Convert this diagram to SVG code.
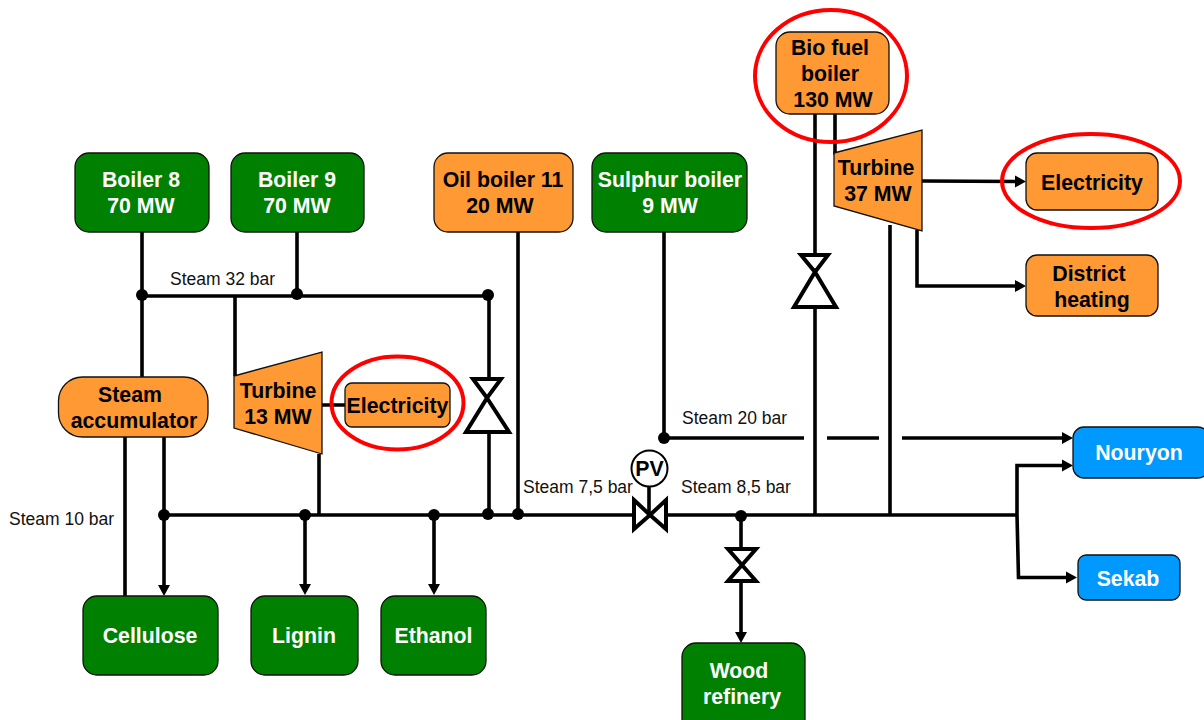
<svg xmlns="http://www.w3.org/2000/svg" width="1204" height="720" viewBox="0 0 1204 720">
<style>
text{font-family:"Liberation Sans",Arial,sans-serif;text-anchor:middle}
.t{font-size:21.3px;font-weight:bold}
.d{fill:#000}
.w{fill:#fff}
.l{font-size:17.5px;text-anchor:start;fill:#111}
.o{fill:#ff9933;stroke:#111;stroke-width:1.3}
.g{fill:#008000;stroke:#111;stroke-width:1.3}
.b{fill:#0099ff;stroke:#111;stroke-width:1.3}
.p{fill:none;stroke:#000;stroke-width:3.6}
.a{marker-end:url(#arr)}
.r{fill:none;stroke:#f00;stroke-width:4}
.v{fill:#fff;stroke:#000;stroke-width:4}
</style>
<defs>
<marker id="arr" markerUnits="userSpaceOnUse" markerWidth="13" markerHeight="13" refX="3" refY="6.5" orient="auto"><path d="M0 .5L11 6.5L0 12.5z" fill="#000"/></marker>
</defs>
<g id="connectors">
<path class="p" d="M142 232V377M297 232V295M142 296H488M235 296V376M489 296V379M489 432V515M518 232V515M664 232V438"/>
<path class="p" d="M125 437V596M319 454V515M164 515H1017M815 114V254M815 308V515M835 114V155M890 225V515"/>
<path class="p" d="M649 486V515M322 405H346"/>
<path class="p a" d="M164 437V588"/>
<path class="p a" d="M305 515V587"/>
<path class="p a" d="M434 515V587"/>
<path class="p a" d="M741 583V635"/>
<path class="p" d="M741 515V547"/>
<path class="p" d="M664 438H804M827 438H879"/>
<path class="p a" d="M902 438H1065"/>
<path class="p a" d="M1017 515V465.500H1065"/>
<path class="p a" d="M1017 515L1018.500 577.500H1069"/>
<path class="p a" d="M922 181L1018 181.500"/>
<path class="p a" d="M917 230V286H1018"/>
<g class="d">
<circle cx="142" cy="295" r="6"/><circle cx="297" cy="294" r="6"/><circle cx="488" cy="295" r="6"/>
<circle cx="164" cy="515" r="6"/><circle cx="305" cy="515" r="6"/><circle cx="434" cy="515" r="6"/>
<circle cx="488" cy="514" r="6"/><circle cx="518" cy="514" r="6"/><circle cx="664" cy="438" r="6"/><circle cx="741" cy="516" r="6"/>
</g>
</g>
<g id="valve-a"><path class="v" d="M473 379H501L487 398zM487 398L509 432H466z"/></g>
<g id="valve-b"><path class="v" d="M801 255H828L815 272zM815 272L836 307H794z"/></g>
<g id="valve-c"><path class="v" d="M729 549H757L743 565zM743 565L757 581H729z" transform="translate(-1 0)"/></g>
<g id="valve-pv">
<path class="v" d="M634 500L650 515L634 529zM666 500V529L650 515z"/>
<circle cx="649.500" cy="468.500" r="18" fill="#fff" stroke="#000" stroke-width="2"/>
<text class="t d" x="649.500" y="476">PV</text>
</g>
<g id="boiler8"><rect class="g" x="75" y="153" width="134" height="79" rx="14"/><text class="t w" x="141" y="187">Boiler 8</text><text class="t w" x="141" y="213">70 MW</text></g>
<g id="boiler9"><rect class="g" x="231" y="153" width="133" height="79" rx="14"/><text class="t w" x="297" y="187">Boiler 9</text><text class="t w" x="297" y="213">70 MW</text></g>
<g id="oil-boiler"><rect class="o" x="434" y="153" width="139" height="79" rx="14"/><text class="t d" x="503" y="187">Oil boiler 11</text><text class="t d" x="500" y="213">20 MW</text></g>
<g id="sulphur-boiler"><rect class="g" x="592" y="153" width="155" height="79" rx="14"/><text class="t w" x="670" y="187">Sulphur boiler</text><text class="t w" x="670" y="213">9 MW</text></g>
<g id="bio-boiler"><rect class="o" x="776" y="32" width="113" height="82" rx="14"/><text class="t d" x="830" y="55">Bio fuel</text><text class="t d" x="830" y="81">boiler</text><text class="t d" x="833" y="107">130 MW</text></g>
<g id="turbine37"><path class="o" d="M834 153L922 130V231L834 206z"/><text class="t d" x="876" y="175">Turbine</text><text class="t d" x="878" y="201">37 MW</text></g>
<g id="electricity-right"><rect class="o" x="1026" y="153" width="132" height="57" rx="11"/><text class="t d" x="1092" y="190">Electricity</text></g>
<g id="district"><rect class="o" x="1026" y="255" width="132" height="61" rx="11"/><text class="t d" x="1089" y="281">District</text><text class="t d" x="1092" y="307">heating</text></g>
<g id="accumulator"><rect class="o" x="58.500" y="377" width="149.500" height="60" rx="24"/><text class="t d" x="130" y="402">Steam</text><text class="t d" x="134" y="428">accumulator</text></g>
<g id="turbine13"><path class="o" d="M234 376L322 352V454L234 428z"/><text class="t d" x="278" y="398">Turbine</text><text class="t d" x="278" y="424">13 MW</text></g>
<g id="electricity-left"><rect class="o" x="345" y="383" width="105" height="44" rx="7"/><text class="t d" x="397.500" y="413">Electricity</text></g>
<g id="cellulose"><rect class="g" x="83" y="596" width="135" height="79" rx="14"/><text class="t w" x="150" y="643">Cellulose</text></g>
<g id="lignin"><rect class="g" x="251" y="596" width="107" height="79" rx="14"/><text class="t w" x="304" y="643">Lignin</text></g>
<g id="ethanol"><rect class="g" x="381" y="596" width="105" height="79" rx="14"/><text class="t w" x="433.500" y="643">Ethanol</text></g>
<g id="wood-refinery"><rect class="g" x="682" y="643" width="123" height="90" rx="14"/><text class="t w" x="739" y="678">Wood</text><text class="t w" x="742" y="704">refinery</text></g>
<g id="nouryon"><rect class="b" x="1073" y="427" width="136" height="51" rx="11"/><text class="t w" x="1139" y="460">Nouryon</text></g>
<g id="sekab"><rect class="b" x="1078" y="555" width="102" height="45" rx="8"/><text class="t w" x="1128" y="586">Sekab</text></g>
<g id="highlights">
<ellipse class="r" cx="831" cy="76" rx="76" ry="66"/>
<ellipse class="r" cx="1091" cy="181" rx="89" ry="47"/>
<ellipse class="r" cx="397.500" cy="403" rx="66" ry="46.500"/>
</g>
<g id="labels">
<text class="l" x="170" y="285">Steam 32 bar</text>
<text class="l" x="9" y="525">Steam 10 bar</text>
<text class="l" x="523" y="493">Steam 7,5 bar</text>
<text class="l" x="682" y="424">Steam 20 bar</text>
<text class="l" x="681" y="493">Steam 8,5 bar</text>
</g>
</svg>
